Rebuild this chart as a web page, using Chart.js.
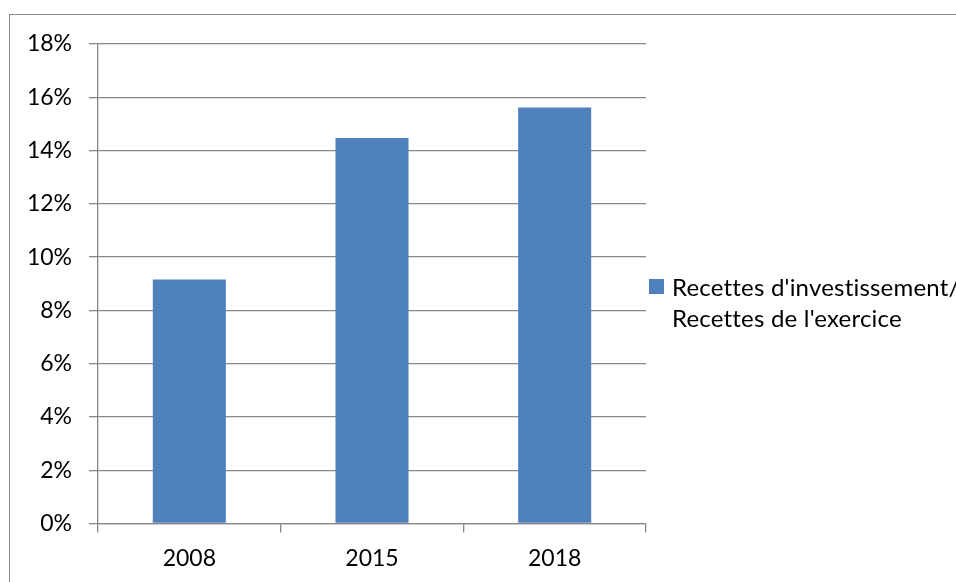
<!DOCTYPE html>
<html>
<head>
<meta charset="utf-8">
<script src="https://cdn.jsdelivr.net/npm/chart.js@4/dist/chart.umd.min.js"></script>
<style>
  html, body { margin: 0; padding: 0; background: #fff; overflow: hidden; }
  #wrap { position: relative; width: 956px; height: 582px; overflow: hidden; }
  #frame { position: absolute; left: 9px; top: 14px; width: 1000px; height: 640px;
           border: 1.5px solid #8c8c8c; box-sizing: border-box; }
  canvas { position: absolute; left: 0; top: 0; }
</style>
</head>
<body>
<div id="wrap">
  <div id="frame"></div>
  <canvas id="c" width="956" height="582"></canvas>
</div>
<script>
const categories = ["2008", "2015", "2018"];
const seriesValues = [0.0916, 0.1447, 0.1562];
const legendLines = ["Recettes d'investissement/", "Recettes de l'exercice"];
const yTicks = [0, 0.02, 0.04, 0.06, 0.08, 0.10, 0.12, 0.14, 0.16, 0.18];

const FONT = "Lato";
const BAR = "#4F81BD";
const GRID = "#878787";

const legendPlugin = {
  id: 'sideLegend',
  afterDraw(chart) {
    const ctx = chart.ctx;
    const a = chart.chartArea;
    const ds = chart.data.datasets[0];
    ctx.save();
    const sx = a.right + 3, sy = a.top + 235;
    ctx.fillStyle = ds.backgroundColor;
    ctx.fillRect(sx, sy, 15, 15);
    ctx.fillStyle = "#000";
    ctx.font = "24px " + FONT;
    if ('letterSpacing' in ctx) ctx.letterSpacing = "0.2px";
    ctx.textBaseline = "alphabetic";
    ctx.textAlign = "left";
    legendLines.forEach((t, i) => ctx.fillText(t, sx + 23, sy + 16.5 + i * 31.7));
    ctx.restore();
  }
};

new Chart(document.getElementById('c'), {
  type: 'bar',
  data: {
    labels: categories,
    datasets: [{
      label: legendLines.join(' '),
      data: seriesValues,
      backgroundColor: BAR,
      borderWidth: 0,
      categoryPercentage: 1.0,
      barPercentage: 0.4
    }]
  },
  options: {
    responsive: false,
    animation: false,
    devicePixelRatio: 1,
    layout: { padding: { left: 0, top: 44, right: 310, bottom: 0 } },
    plugins: { legend: { display: false }, tooltip: { enabled: false } },
    scales: {
      x: {
        offset: true,
        grid: { display: true, drawOnChartArea: false, drawTicks: true, offset: true,
                tickLength: 9, color: GRID, lineWidth: 1.3 },
        border: { display: true, color: GRID, width: 1.3 },
        ticks: { color: "#000", font: { family: FONT, size: 23 }, padding: 12, maxRotation: 0 },
        afterFit(scale) { scale.height = 58.5; }
      },
      y: {
        min: 0, max: 0.18,
        afterBuildTicks(scale) { scale.ticks = yTicks.map(v => ({ value: v })); },
        grid: { color: GRID, lineWidth: 1.3, tickLength: 9 },
        border: { display: true, color: GRID, width: 1.3 },
        ticks: {
          color: "#000", font: { family: FONT, size: 23 }, padding: 17,
          callback: v => Math.round(v * 100) + "%"
        },
        afterFit(scale) { scale.width = 98; }
      }
    }
  },
  plugins: [legendPlugin]
});
</script>
</body>
</html>
